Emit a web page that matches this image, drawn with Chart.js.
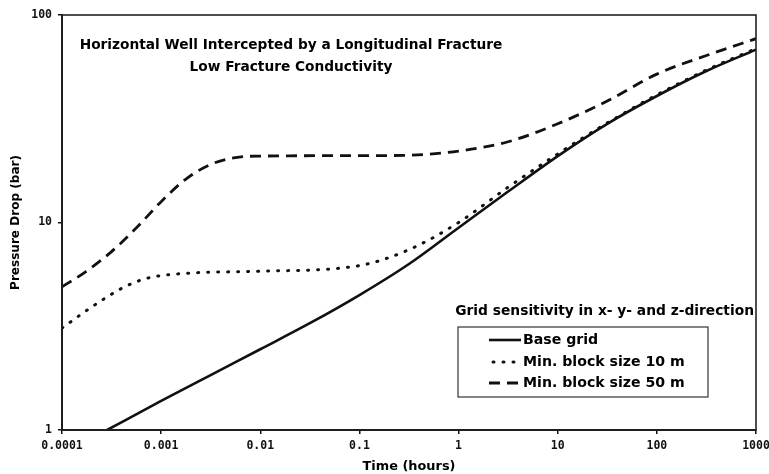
<!DOCTYPE html>
<html>
<head>
<meta charset="utf-8">
<script src="https://cdn.jsdelivr.net/npm/chart.js@4/dist/chart.umd.min.js"></script>
<style>
  html, body { margin: 0; padding: 0; background: #fff; }
  #wrap { width: 769px; height: 474px; }
</style>
</head>
<body>
<div id="wrap"><canvas id="c" width="769" height="474"></canvas></div>
<script>
// ---- Data (time in hours, pressure drop in bar) ----
const timeBase = [0.000285, 0.001, 0.00316, 0.01, 0.0316, 0.1, 0.316, 1, 3.16, 10, 31.6, 100, 316, 1000];
const pBase    = [1.0, 1.38, 1.84, 2.45, 3.27, 4.47, 6.31, 9.44, 14.1, 20.9, 29.9, 40.7, 53.7, 68.1];

const time10 = [0.0001, 0.00023, 0.00043, 0.00074, 0.0019, 0.01, 0.1, 0.316, 1, 3.16, 10, 31.6, 100, 316, 1000];
const p10    = [3.1, 4.1, 4.9, 5.4, 5.7, 5.82, 6.2, 7.4, 10.0, 14.8, 21.4, 30.2, 41.2, 54.3, 68.9];

const time50 = [0.0001, 0.00017, 0.000316, 0.00056, 0.001, 0.00178, 0.00316, 0.00562, 0.01, 0.1, 0.316, 1, 3.16, 10, 31.6, 100, 316, 1000];
const p50    = [4.9, 5.75, 7.24, 9.4, 12.6, 16.2, 19.05, 20.56, 20.9, 21.0, 21.1, 22.1, 24.5, 29.9, 38.5, 51.9, 63.8, 76.9];

const xTickValues = [0.0001, 0.001, 0.01, 0.1, 1, 10, 100, 1000];
const xTickLabels = ['0.0001', '0.001', '0.01', '0.1', '1', '10', '100', '1000'];
const yTickValues = [1, 10, 100];
const yTickLabels = ['1', '10', '100'];

const seriesNames = ['Base grid', 'Min. block size 10 m', 'Min. block size 50 m'];
const titleLines = ['Horizontal Well Intercepted by a Longitudinal Fracture', 'Low Fracture Conductivity'];
const legendHeading = 'Grid sensitivity in x- y- and z-direction';
const xTitle = 'Time (hours)';
const yTitle = 'Pressure Drop (bar)';

const toPts = (xs, ys) => xs.map((x, i) => ({ x: x, y: ys[i] }));

// ---- font sizing helper (fit text to the width measured on the reference) ----
const FAM = '"DejaVu Sans", "Liberation Sans", Arial, sans-serif';
const mctx = document.createElement('canvas').getContext('2d');
function fitSize(text, width) {
  mctx.font = 'bold 100px ' + FAM;
  return 100 * width / mctx.measureText(text).width;
}
const titleSize = fitSize(titleLines[0], 423);
const headSize = fitSize(legendHeading, 299);
const entrySize = fitSize(seriesNames[1], 162);
const xTitleSize = fitSize(xTitle, 93);
const yTitleSize = fitSize(yTitle, 135);

// ---- Plugins ----
const framePlugin = {
  id: 'frame',
  afterDatasetsDraw(chart) {
    const { ctx, chartArea: a } = chart;
    ctx.save();
    ctx.strokeStyle = '#222';
    ctx.lineWidth = 1.6;
    ctx.strokeRect(a.left, a.top, a.right - a.left, a.bottom - a.top);
    ctx.restore();
  }
};

const textPlugin = {
  id: 'texts',
  afterDatasetsDraw(chart) {
    const { ctx } = chart;
    ctx.save();
    ctx.fillStyle = '#000';
    ctx.font = 'bold ' + titleSize.toFixed(2) + 'px ' + FAM;
    ctx.textAlign = 'center';
    ctx.textBaseline = 'middle';
    ctx.fillText(titleLines[0], 291, 45);
    ctx.fillText(titleLines[1], 291, 67);

    ctx.font = 'bold ' + headSize.toFixed(2) + 'px ' + FAM;
    ctx.textAlign = 'right';
    ctx.fillText(legendHeading, 754, 311);

    const bx = 458, by = 327, bw = 250, bh = 70;
    ctx.strokeStyle = '#333';
    ctx.lineWidth = 1.2;
    ctx.strokeRect(bx, by, bw, bh);

    const rowsY = [340, 362, 383];
    chart.data.datasets.forEach((ds, i) => {
      const y = rowsY[i];
      ctx.save();
      ctx.strokeStyle = ds.borderColor;
      ctx.lineWidth = ds.borderWidth;
      ctx.lineCap = ds.borderCapStyle || 'butt';
      ctx.setLineDash(ds.borderDash || []);
      ctx.beginPath();
      ctx.moveTo(i === 1 ? 493 : 489, y);
      ctx.lineTo(521, y);
      ctx.stroke();
      ctx.restore();
      ctx.textAlign = 'left';
      ctx.textBaseline = 'middle';
      ctx.font = 'bold ' + entrySize.toFixed(2) + 'px ' + FAM;
      ctx.fillText(ds.label, 523, y);
    });
    ctx.restore();
  }
};

const tickFont = { family: '"DejaVu Sans Mono", "Liberation Mono", monospace', size: 11.5, weight: 'bold' };

new Chart(document.getElementById('c'), {
  type: 'line',
  data: {
    datasets: [
      {
        label: seriesNames[0],
        data: toPts(timeBase, pBase),
        borderColor: '#111',
        borderWidth: 2.6,
        pointRadius: 0,
        cubicInterpolationMode: 'monotone',
        fill: false
      },
      {
        label: seriesNames[1],
        data: toPts(time10, p10),
        borderColor: '#111',
        borderWidth: 3,
        borderDash: [1, 9],
        borderCapStyle: 'round',
        pointRadius: 0,
        cubicInterpolationMode: 'monotone',
        fill: false
      },
      {
        label: seriesNames[2],
        data: toPts(time50, p50),
        borderColor: '#111',
        borderWidth: 2.8,
        borderDash: [11, 7],
        pointRadius: 0,
        cubicInterpolationMode: 'monotone',
        fill: false
      }
    ]
  },
  options: {
    responsive: false,
    animation: false,
    devicePixelRatio: 1,
    layout: { padding: { left: 0, right: 13, top: 15, bottom: 0 } },
    plugins: { legend: { display: false }, tooltip: { enabled: false } },
    scales: {
      x: {
        type: 'logarithmic',
        min: 0.0001,
        max: 1000,
        afterBuildTicks(scale) { scale.ticks = xTickValues.map(v => ({ value: v, major: true })); },
        afterFit(scale) { scale.height = 44; scale.paddingLeft = 0; scale.paddingRight = 0; },
        ticks: {
          color: '#111',
          font: tickFont,
          maxRotation: 0,
          autoSkip: false,
          padding: 5,
          callback(value, index) { return xTickLabels[index]; }
        },
        grid: { display: true, drawOnChartArea: false, drawTicks: true, tickLength: 4, color: '#111', lineWidth: 1.5 },
        border: { display: true, color: '#111', width: 2 },
        title: { display: true, text: xTitle, color: '#000', font: { family: FAM, size: xTitleSize, weight: 'bold' }, padding: { top: 0, bottom: 0 } }
      },
      y: {
        type: 'logarithmic',
        min: 1,
        max: 100,
        afterBuildTicks(scale) { scale.ticks = yTickValues.map(v => ({ value: v, major: true })); },
        afterFit(scale) { scale.width = 62; scale.paddingTop = 0; scale.paddingBottom = 0; },
        ticks: {
          color: '#111',
          font: tickFont,
          padding: 6,
          autoSkip: false,
          callback(value, index) { return yTickLabels[index]; }
        },
        grid: { display: true, drawOnChartArea: false, drawTicks: true, tickLength: 4, color: '#111', lineWidth: 1.5 },
        border: { display: true, color: '#111', width: 2 },
        title: { display: true, text: yTitle, color: '#000', font: { family: FAM, size: yTitleSize, weight: 'bold' }, padding: { top: 9, bottom: 0 } }
      }
    }
  },
  plugins: [framePlugin, textPlugin]
});
</script>
</body>
</html>
